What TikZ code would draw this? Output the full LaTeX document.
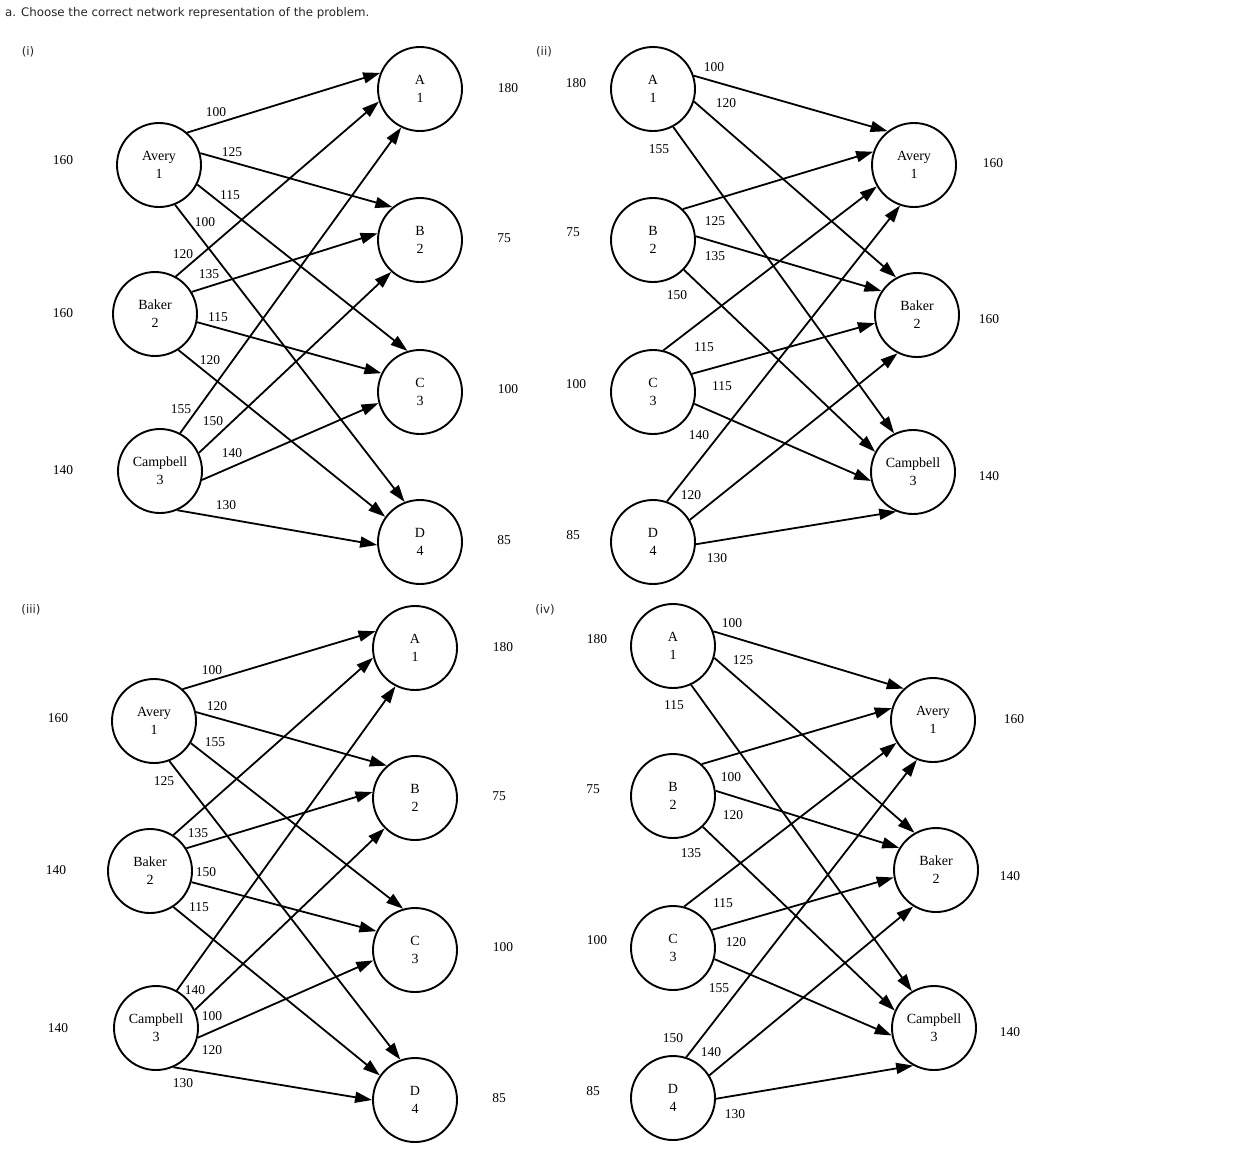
\documentclass[tikz,border=0pt]{standalone}
\usepackage{fontspec}
\setmainfont{Liberation Serif}
\newfontfamily\titlefont{DejaVu Sans}
\usepackage{tikz}
\usetikzlibrary{arrows.meta}

\begin{document}
\begin{tikzpicture}[
    x=1pt, y=-1pt,
    facility/.style={circle, draw, line width=1.9pt, minimum size=84pt, inner sep=0pt, align=center, font=\fontsize{14}{18}\selectfont},
    arc/.style={-{Triangle[length=17pt, width=11pt]}, line width=1.8pt},
    num/.style={font=\fontsize{13.5}{15}\selectfont, inner sep=0pt},
    caption/.style={font=\titlefont\fontsize{11.8}{14}\selectfont, text=black!85, inner sep=0pt}
]

\fill[white] (0,0) rectangle (1238,1154);
\useasboundingbox (0,0) rectangle (1238,1154);

\node[caption, anchor=west] (title) at (5,13) {a. Choose the correct network representation of the problem.};
\node[caption] (lab1) at (28,52) {(i)};
\node[caption] (lab2) at (544,52) {(ii)};
\node[caption] (lab3) at (31,610) {(iii)};
\node[caption] (lab4) at (545,610) {(iv)};

\node[facility] (p1avery) at (159,165) {Avery\\1};
\node[facility] (p1baker) at (155,314) {Baker\\2};
\node[facility] (p1campbell) at (160,471) {Campbell\\3};
\node[facility] (p1a) at (420,89) {A\\1};
\node[facility] (p1b) at (420,240) {B\\2};
\node[facility] (p1c) at (420,392) {C\\3};
\node[facility] (p1d) at (420,542) {D\\4};
\node[num] (p1sup1) at (63,160) {160};
\node[num] (p1sup2) at (63,313) {160};
\node[num] (p1sup3) at (63,470) {140};
\node[num] (p1dem1) at (508,88) {180};
\node[num] (p1dem2) at (504,238) {75};
\node[num] (p1dem3) at (508,389) {100};
\node[num] (p1dem4) at (504,540) {85};

\draw[arc] (p1avery.49) -- (p1a.158);
\draw[arc] (p1avery.16) -- (p1b.130);
\draw[arc] (p1avery.-27) -- (p1c.107);
\draw[arc] (p1avery.-68) -- (p1d.111);
\draw[arc] (p1baker.61) -- (p1a.197);
\draw[arc] (p1baker.31) -- (p1b.171);
\draw[arc] (p1baker.-11) -- (p1c.154);
\draw[arc] (p1baker.-57) -- (p1d.144);
\draw[arc] (p1campbell.62) -- (p1a.244);
\draw[arc] (p1campbell.25) -- (p1b.228);
\draw[arc] (p1campbell.-12) -- (p1c.195);
\draw[arc] (p1campbell.-66) -- (p1d.184);

\node[num] (p1w1) at (216,112) {100};
\node[num] (p1w2) at (232,152) {125};
\node[num] (p1w3) at (230,195) {115};
\node[num] (p1w4) at (205,222) {100};
\node[num] (p1w5) at (183,254) {120};
\node[num] (p1w6) at (209,274) {135};
\node[num] (p1w7) at (218,317) {115};
\node[num] (p1w8) at (210,360) {120};
\node[num] (p1w9) at (181,409) {155};
\node[num] (p1w10) at (213,421) {150};
\node[num] (p1w11) at (232,453) {140};
\node[num] (p1w12) at (226,505) {130};

\node[facility] (p2a) at (653,89) {A\\1};
\node[facility] (p2b) at (653,240) {B\\2};
\node[facility] (p2c) at (653,392) {C\\3};
\node[facility] (p2d) at (653,542) {D\\4};
\node[facility] (p2avery) at (914,165) {Avery\\1};
\node[facility] (p2baker) at (917,315) {Baker\\2};
\node[facility] (p2campbell) at (913,472) {Campbell\\3};
\node[num] (p2sup1) at (576,83) {180};
\node[num] (p2sup2) at (573,232) {75};
\node[num] (p2sup3) at (576,384) {100};
\node[num] (p2sup4) at (573,535) {85};
\node[num] (p2dem1) at (993,163) {160};
\node[num] (p2dem2) at (989,319) {160};
\node[num] (p2dem3) at (989,476) {140};

\draw[arc] (p2a.18) -- (p2avery.128);
\draw[arc] (p2a.-17) -- (p2baker.119);
\draw[arc] (p2a.-62) -- (p2campbell.116);
\draw[arc] (p2b.46) -- (p2avery.162);
\draw[arc] (p2b.5) -- (p2baker.146);
\draw[arc] (p2b.-44) -- (p2campbell.152);
\draw[arc] (p2c.76) -- (p2avery.210);
\draw[arc] (p2c.25) -- (p2baker.191);
\draw[arc] (p2c.-16) -- (p2campbell.192);
\draw[arc] (p2d.71) -- (p2avery.251);
\draw[arc] (p2d.31) -- (p2baker.243);
\draw[arc] (p2d.-3) -- (p2campbell.247);

\node[num] (p2w1) at (714,67) {100};
\node[num] (p2w2) at (726,103) {120};
\node[num] (p2w3) at (659,149) {155};
\node[num] (p2w4) at (715,221) {125};
\node[num] (p2w5) at (715,256) {135};
\node[num] (p2w6) at (677,295) {150};
\node[num] (p2w7) at (704,347) {115};
\node[num] (p2w8) at (722,386) {115};
\node[num] (p2w9) at (699,435) {140};
\node[num] (p2w10) at (691,495) {120};
\node[num] (p2w11) at (717,558) {130};

\node[facility] (p3avery) at (154,721) {Avery\\1};
\node[facility] (p3baker) at (150,871) {Baker\\2};
\node[facility] (p3campbell) at (156,1028) {Campbell\\3};
\node[facility] (p3a) at (415,648) {A\\1};
\node[facility] (p3b) at (415,798) {B\\2};
\node[facility] (p3c) at (415,950) {C\\3};
\node[facility] (p3d) at (415,1100) {D\\4};
\node[num] (p3sup1) at (58,718) {160};
\node[num] (p3sup2) at (56,870) {140};
\node[num] (p3sup3) at (58,1028) {140};
\node[num] (p3dem1) at (503,647) {180};
\node[num] (p3dem2) at (499,796) {75};
\node[num] (p3dem3) at (503,947) {100};
\node[num] (p3dem4) at (499,1098) {85};

\draw[arc] (p3avery.48) -- (p3a.157);
\draw[arc] (p3avery.12) -- (p3b.131);
\draw[arc] (p3avery.-31) -- (p3c.106);
\draw[arc] (p3avery.-69) -- (p3d.110);
\draw[arc] (p3baker.57) -- (p3a.193);
\draw[arc] (p3baker.32) -- (p3b.172);
\draw[arc] (p3baker.-15) -- (p3c.154);
\draw[arc] (p3baker.-57) -- (p3d.145);
\draw[arc] (p3campbell.61) -- (p3a.243);
\draw[arc] (p3campbell.25) -- (p3b.225);
\draw[arc] (p3campbell.-13) -- (p3c.194);
\draw[arc] (p3campbell.-66) -- (p3d.180);

\node[num] (p3w1) at (212,670) {100};
\node[num] (p3w2) at (217,706) {120};
\node[num] (p3w3) at (215,742) {155};
\node[num] (p3w4) at (164,781) {125};
\node[num] (p3w5) at (198,833) {135};
\node[num] (p3w6) at (206,872) {150};
\node[num] (p3w7) at (199,907) {115};
\node[num] (p3w8) at (195,990) {140};
\node[num] (p3w9) at (212,1016) {100};
\node[num] (p3w10) at (212,1050) {120};
\node[num] (p3w11) at (183,1083) {130};

\node[facility] (p4a) at (673,646) {A\\1};
\node[facility] (p4b) at (673,796) {B\\2};
\node[facility] (p4c) at (673,948) {C\\3};
\node[facility] (p4d) at (673,1098) {D\\4};
\node[facility] (p4avery) at (933,720) {Avery\\1};
\node[facility] (p4baker) at (936,870) {Baker\\2};
\node[facility] (p4campbell) at (934,1028) {Campbell\\3};
\node[num] (p4sup1) at (597,639) {180};
\node[num] (p4sup2) at (593,789) {75};
\node[num] (p4sup3) at (597,940) {100};
\node[num] (p4sup4) at (593,1091) {85};
\node[num] (p4dem1) at (1014,719) {160};
\node[num] (p4dem2) at (1010,876) {140};
\node[num] (p4dem3) at (1010,1032) {140};

\draw[arc] (p4a.20) -- (p4avery.133);
\draw[arc] (p4a.-16) -- (p4baker.120);
\draw[arc] (p4a.-65) -- (p4campbell.121);
\draw[arc] (p4b.48) -- (p4avery.164);
\draw[arc] (p4b.7) -- (p4baker.149);
\draw[arc] (p4b.-46) -- (p4campbell.156);
\draw[arc] (p4c.75) -- (p4avery.212);
\draw[arc] (p4c.25) -- (p4baker.190);
\draw[arc] (p4c.-15) -- (p4campbell.190);
\draw[arc] (p4d.72) -- (p4avery.248);
\draw[arc] (p4d.32) -- (p4baker.238);
\draw[arc] (p4d.-1) -- (p4campbell.241);

\node[num] (p4w1) at (732,623) {100};
\node[num] (p4w2) at (743,660) {125};
\node[num] (p4w3) at (674,705) {115};
\node[num] (p4w4) at (731,777) {100};
\node[num] (p4w5) at (733,815) {120};
\node[num] (p4w6) at (691,853) {135};
\node[num] (p4w7) at (723,903) {115};
\node[num] (p4w8) at (736,942) {120};
\node[num] (p4w9) at (719,988) {155};
\node[num] (p4w10) at (673,1038) {150};
\node[num] (p4w11) at (711,1052) {140};
\node[num] (p4w12) at (735,1114) {130};

\end{tikzpicture}
\end{document}
